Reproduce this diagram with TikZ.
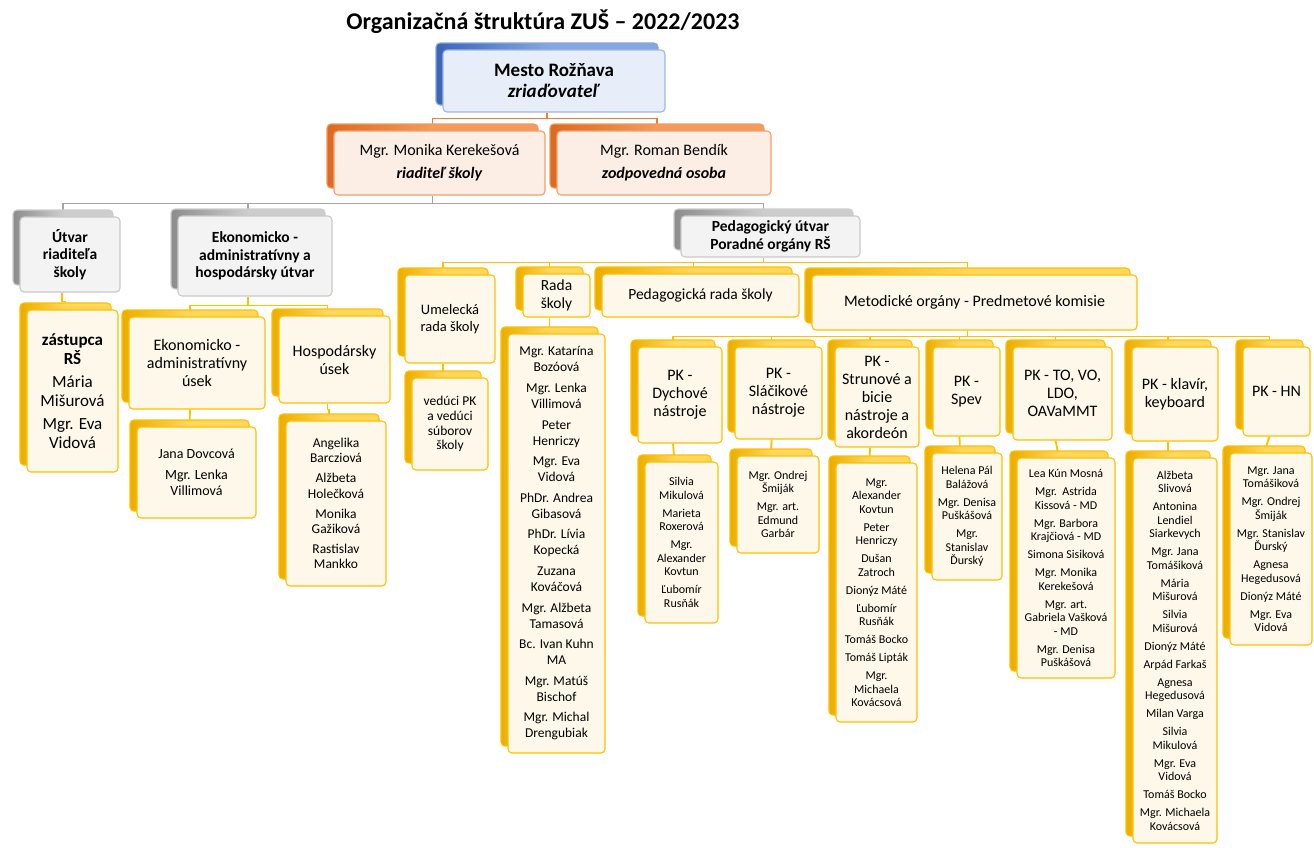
\documentclass[tikz,border=0pt]{standalone}
\usepackage{fontspec}
\setmainfont{Carlito}
\usetikzlibrary{calc}
\pgfdeclarelayer{bg}
\pgfsetlayers{bg,main}
\definecolor{ybord}{HTML}{FFC000}
\definecolor{yfront}{HTML}{FDF8E9}
\definecolor{yback}{HTML}{FFD75A}
\definecolor{ydark}{HTML}{EBAE00}
\definecolor{obord}{HTML}{F4A06A}
\definecolor{ofront}{HTML}{FCEEE5}
\definecolor{oback}{HTML}{F39A5C}
\definecolor{odark}{HTML}{DB6A22}
\definecolor{olinkc}{HTML}{ED7D31}
\definecolor{bbord}{HTML}{9DB7E3}
\definecolor{bfront}{HTML}{E8EEF9}
\definecolor{bback}{HTML}{86A6DD}
\definecolor{bdark}{HTML}{3A64B8}
\definecolor{gbord}{HTML}{C9C9C9}
\definecolor{gfront}{HTML}{F3F3F3}
\definecolor{gback}{HTML}{CDCDCD}
\definecolor{gdark}{HTML}{8C8C8C}
\definecolor{glinkc}{HTML}{A6A6A6}
\newcommand*\fsT{\fontsize{24}{28}\selectfont}
\newcommand*\fsM{\fontsize{19}{21}\selectfont}
\newcommand*\fsH{\fontsize{15.5}{17.5}\selectfont}
\newcommand*\fsP{\fontsize{16}{18}\selectfont}
\newcommand*\fsR{\fontsize{13.5}{16}\selectfont}
\newcommand*\fsN{\fontsize{12}{13.5}\selectfont}

\begin{document}
\begin{tikzpicture}[x=1pt, y=-1pt,
  card/.style={rounded corners=4pt, line width=1.1pt, align=center, inner sep=1pt},
  ycard/.style={card, draw=ybord, fill=yfront,
    preaction={draw=ybord, left color=ydark, right color=yback, middle color=yback,
      transform canvas={shift={(-7pt,7pt)}}}},
  ocard/.style={card, draw=obord, fill=ofront,
    preaction={draw=oback, left color=odark, right color=oback, middle color=oback,
      transform canvas={shift={(-7pt,7pt)}}}},
  bcard/.style={card, draw=bbord, fill=bfront,
    preaction={draw=bback, left color=bdark, right color=bback, middle color=bback,
      transform canvas={shift={(-7pt,7pt)}}}},
  gcard/.style={card, draw=gbord, fill=gfront,
    preaction={draw=gback, left color=gdark, right color=gback, middle color=gback,
      transform canvas={shift={(-7pt,7pt)}}}},
  ylink/.style={draw=ybord, line width=1.8pt},
  olink/.style={draw=olinkc, line width=1.6pt},
  glink/.style={draw=glinkc, line width=1.8pt}]

  \begin{pgfonlayer}{bg}
    \fill[white] (0,0) rectangle (1314,847);
  \end{pgfonlayer}
  \useasboundingbox (0,0) rectangle (1314,847);

  \node[font=\fsT\bfseries] (title) at (543,22) {Organizačná štruktúra ZUŠ – 2022/2023};

  \node[bcard, minimum width=222, minimum height=62, font=\fsM] (mesto) at (554,81)
    {\textbf{Mesto Rožňava}\\\textbf{\itshape zriaďovateľ}};
  \node[ocard, minimum width=211, minimum height=64, font=\fsP] (kere) at (439.5,163)
    {Mgr. Monika Kerekešová\\[5pt]\textbf{\itshape riaditeľ školy}};
  \node[ocard, minimum width=214, minimum height=64, font=\fsP] (bendik) at (664,163)
    {Mgr. Roman Bendík\\[5pt]\textbf{\itshape zodpovedná osoba}};

  \node[gcard, minimum width=100, minimum height=75, font=\fsH\bfseries] (utvar) at (70,254.5)
    {Útvar\\riaditeľa\\školy};
  \node[gcard, minimum width=154, minimum height=80, font=\fsH\bfseries] (eko) at (255,256)
    {Ekonomicko -\\administratívny a\\hospodársky útvar};
  \node[gcard, minimum width=179, minimum height=41, font=\fsH\bfseries] (ped) at (770.5,236.5)
    {Pedagogický útvar\\Poradné orgány RŠ};

  \node[ycard, minimum width=91, minimum height=162, font=\fontsize{17}{18.5}\selectfont] (zast) at (72.5,391)
    {\textbf{zástupca}\\\textbf{RŠ}\\[5pt]Mária\\Mišurová\\[5pt]Mgr. Eva\\Vidová};
  \node[ycard, minimum width=136, minimum height=92, font=\fsP] (ekoadm) at (197,363)
    {Ekonomicko -\\administratívny\\úsek};
  \node[ycard, minimum width=111, minimum height=87, font=\fsP] (hosp) at (334.5,359.5)
    {Hospodársky\\úsek};
  \node[ycard, minimum width=119, minimum height=91, font=\fontsize{14}{16.5}\selectfont] (jana) at (196.5,472.5)
    {Jana Dovcová\\[4pt]Mgr. Lenka\\Villimová};
  \node[ycard, minimum width=100, minimum height=165, font=\fontsize{13.5}{15.2}\selectfont] (angel) at (336,503.5)
    {Angelika\\Barcziová\\[5pt]Alžbeta\\Holečková\\[5pt]Monika\\Gažiková\\[5pt]Rastislav\\Mankko};

  \node[ycard, minimum width=90, minimum height=88, font=\fontsize{14.5}{17}\selectfont] (umel) at (450,319)
    {Umelecká\\rada školy};
  \node[ycard, minimum width=76, minimum height=92, font=\fontsize{13.5}{14.8}\selectfont] (veduci) at (450,424)
    {vedúci PK\\a vedúci\\súborov\\školy};
  \node[ycard, minimum width=67, minimum height=43, font=\fsH] (rada) at (556.5,295.5)
    {Rada\\školy};
  \node[ycard, minimum width=97, minimum height=419, font=\fsR] (radan) at (556.5,543.5)
    {Mgr. Katarína\\Bozóová\\[4.6pt]Mgr. Lenka\\Villimová\\[4.6pt]Peter\\Henriczy\\[4.6pt]%
     Mgr. Eva\\Vidová\\[4.6pt]PhDr. Andrea\\Gibasová\\[4.6pt]PhDr. Lívia\\Kopecká\\[4.6pt]%
     Zuzana\\Kováčová\\[4.6pt]Mgr. Alžbeta\\Tamasová\\[4.6pt]Bc. Ivan Kuhn\\MA\\[4.6pt]%
     Mgr. Matúš\\Bischof\\[4.6pt]Mgr. Michal\\Drengubiak};
  \node[ycard, minimum width=197, minimum height=43, font=\fsH] (pedrada) at (700.5,295.5)
    {Pedagogická rada školy};
  \node[ycard, minimum width=325, minimum height=55, font=\fsP] (metod) at (974.5,302.5)
    {Metodické orgány - Predmetové komisie};

  \node[ycard, minimum width=84, minimum height=96, font=\fsP] (dych) at (680,395)
    {PK -\\Dychové\\nástroje};
  \node[ycard, minimum width=87, minimum height=92, font=\fsP] (slac) at (778.5,393)
    {PK -\\Sláčikové\\nástroje};
  \node[ycard, minimum width=84, minimum height=100, font=\fsP] (strun) at (877,397)
    {PK -\\Strunové a\\bicie\\nástroje a\\akordeón};
  \node[ycard, minimum width=67, minimum height=89, font=\fsP] (spev) at (966.5,391.5)
    {PK -\\Spev};
  \node[ycard, minimum width=99, minimum height=93, font=\fsP] (to) at (1062.5,393.5)
    {PK - TO, VO,\\LDO,\\OAVaMMT};
  \node[ycard, minimum width=86, minimum height=94, font=\fsP] (klav) at (1175,394)
    {PK - klavír,\\keyboard};
  \node[ycard, minimum width=67, minimum height=89, font=\fsP] (hn) at (1276.5,391.5)
    {PK - HN};

  \node[ycard, minimum width=73, minimum height=161, font=\fsN] (dychn) at (681.5,542.5)
    {Silvia\\Mikulová\\[4.5pt]Marieta\\Roxerová\\[4.5pt]Mgr.\\Alexander\\Kovtun\\[4.5pt]Ľubomír\\Rusňák};
  \node[ycard, minimum width=82, minimum height=97, font=\fsN] (slacn) at (778,504.5)
    {Mgr. Ondrej\\Šmiják\\[4.5pt]Mgr. art.\\Edmund\\Garbár};
  \node[ycard, minimum width=81, minimum height=259, font=\fsN] (strunn) at (876.5,592.5)
    {Mgr.\\Alexander\\Kovtun\\[4.5pt]Peter\\Henriczy\\[4.5pt]Dušan\\Zatroch\\[4.5pt]Dionýz Máté\\[4.5pt]%
     Ľubomír\\Rusňák\\[4.5pt]Tomáš Bocko\\[4.5pt]Tomáš Lipták\\[4.5pt]Mgr.\\Michaela\\Kovácsová};
  \node[ycard, minimum width=70, minimum height=127, font=\fsN] (spevn) at (967,516.5)
    {Helena Pál\\Balážová\\[4.5pt]Mgr. Denisa\\Puškášová\\[4.5pt]Mgr.\\Stanislav\\Ďurský};
  \node[ycard, minimum width=98, minimum height=220, font=\fsN] (ton) at (1066,568)
    {Lea Kún Mosná\\[4.5pt]Mgr.\ \ Astrida\\Kissová - MD\\[4.5pt]Mgr. Barbora\\Krajčiová - MD\\[4.5pt]%
     Simona Sisiková\\[4.5pt]Mgr. Monika\\Kerekešová\\[4.5pt]Mgr. art.\\Gabriela Vašková\\- MD\\[4.5pt]%
     Mgr. Denisa\\Puškášová};
  \node[ycard, minimum width=84, minimum height=385, font=\fsN] (klavn) at (1175,650.5)
    {Alžbeta\\Slivová\\[4.5pt]Antonina\\Lendiel\\Siarkevych\\[4.5pt]Mgr. Jana\\Tomášiková\\[4.5pt]%
     Mária\\Mišurová\\[4.5pt]Silvia\\Mišurová\\[4.5pt]Dionýz Máté\\[4.5pt]Arpád Farkaš\\[4.5pt]%
     Agnesa\\Hegedusová\\[4.5pt]Milan Varga\\[4.5pt]Silvia\\Mikulová\\[4.5pt]Mgr. Eva\\Vidová\\[4.5pt]%
     Tomáš Bocko\\[4.5pt]Mgr. Michaela\\Kovácsová};
  \node[ycard, minimum width=82, minimum height=192, font=\fsN] (hnn) at (1271,549)
    {Mgr. Jana\\Tomášiková\\[4.5pt]Mgr. Ondrej\\Šmiják\\[4.5pt]Mgr. Stanislav\\Ďurský\\[4.5pt]%
     Agnesa\\Hegedusová\\[4.5pt]Dionýz Máté\\[4.5pt]Mgr. Eva\\Vidová};

  \begin{pgfonlayer}{bg}
    \draw[olink] ([xshift=-7pt]mesto.south) -- ++(0,6) -| ([xshift=-7pt]kere.north);
    \draw[olink] ([xshift=-7pt]mesto.south) -- ++(0,6) -| ([xshift=-7pt]bendik.north);

    \draw[glink] ([xshift=-7pt]kere.south) -- ++(0,8) -| ([xshift=-7pt]utvar.north);
    \draw[glink] ([xshift=-7pt]kere.south) -- ++(0,8) -| ([xshift=-7pt]eko.north);
    \draw[glink] ([xshift=-7pt]kere.south) -- ++(0,8) -| ([xshift=-7pt]ped.north);

    \draw[ylink] ([xshift=-8pt]utvar.south) -- ++(0,9) -| ([xshift=-7pt]zast.north);
    \draw[ylink] ([xshift=-7pt]eko.south) -- ++(0,9) -| ([xshift=-7pt]ekoadm.north);
    \draw[ylink] ([xshift=-7pt]eko.south) -- ++(0,9) -| ([xshift=-7pt]hosp.north);
    \draw[ylink] ([xshift=-7pt]ekoadm.south) -- ([xshift=-7pt]jana.north);
    \draw[ylink] ([xshift=-7pt]hosp.south) -- ++(0,6) -| ([xshift=-7pt]angel.north);

    \draw[ylink] ([xshift=-7pt]ped.south) -- ++(0,5) -| ([xshift=-7pt]umel.north);
    \draw[ylink] ([xshift=-7pt]ped.south) -- ++(0,5) -| ([xshift=-7pt]rada.north);
    \draw[ylink] ([xshift=-7pt]ped.south) -- ++(0,5) -| ([xshift=-7pt]pedrada.north);
    \draw[ylink] ([xshift=-7pt]ped.south) -- ++(0,5) -| ([xshift=-7pt]metod.north);
    \draw[ylink] ([xshift=-7pt]umel.south) -- ([xshift=-7pt]veduci.north);
    \draw[ylink] ([xshift=-7pt]rada.south) -- ([xshift=-7pt]radan.north);

    \foreach \pk in {dych, slac, strun, spev, to, klav, hn} {
      \draw[ylink] ([xshift=-7pt]metod.south) -- ++(0,6) -| ([xshift=-7pt]\pk.north);
      \draw[ylink] ([xshift=-7pt]\pk.south) -- ([xshift=-7pt]\pk n.north);
    }
  \end{pgfonlayer}
\end{tikzpicture}
\end{document}
